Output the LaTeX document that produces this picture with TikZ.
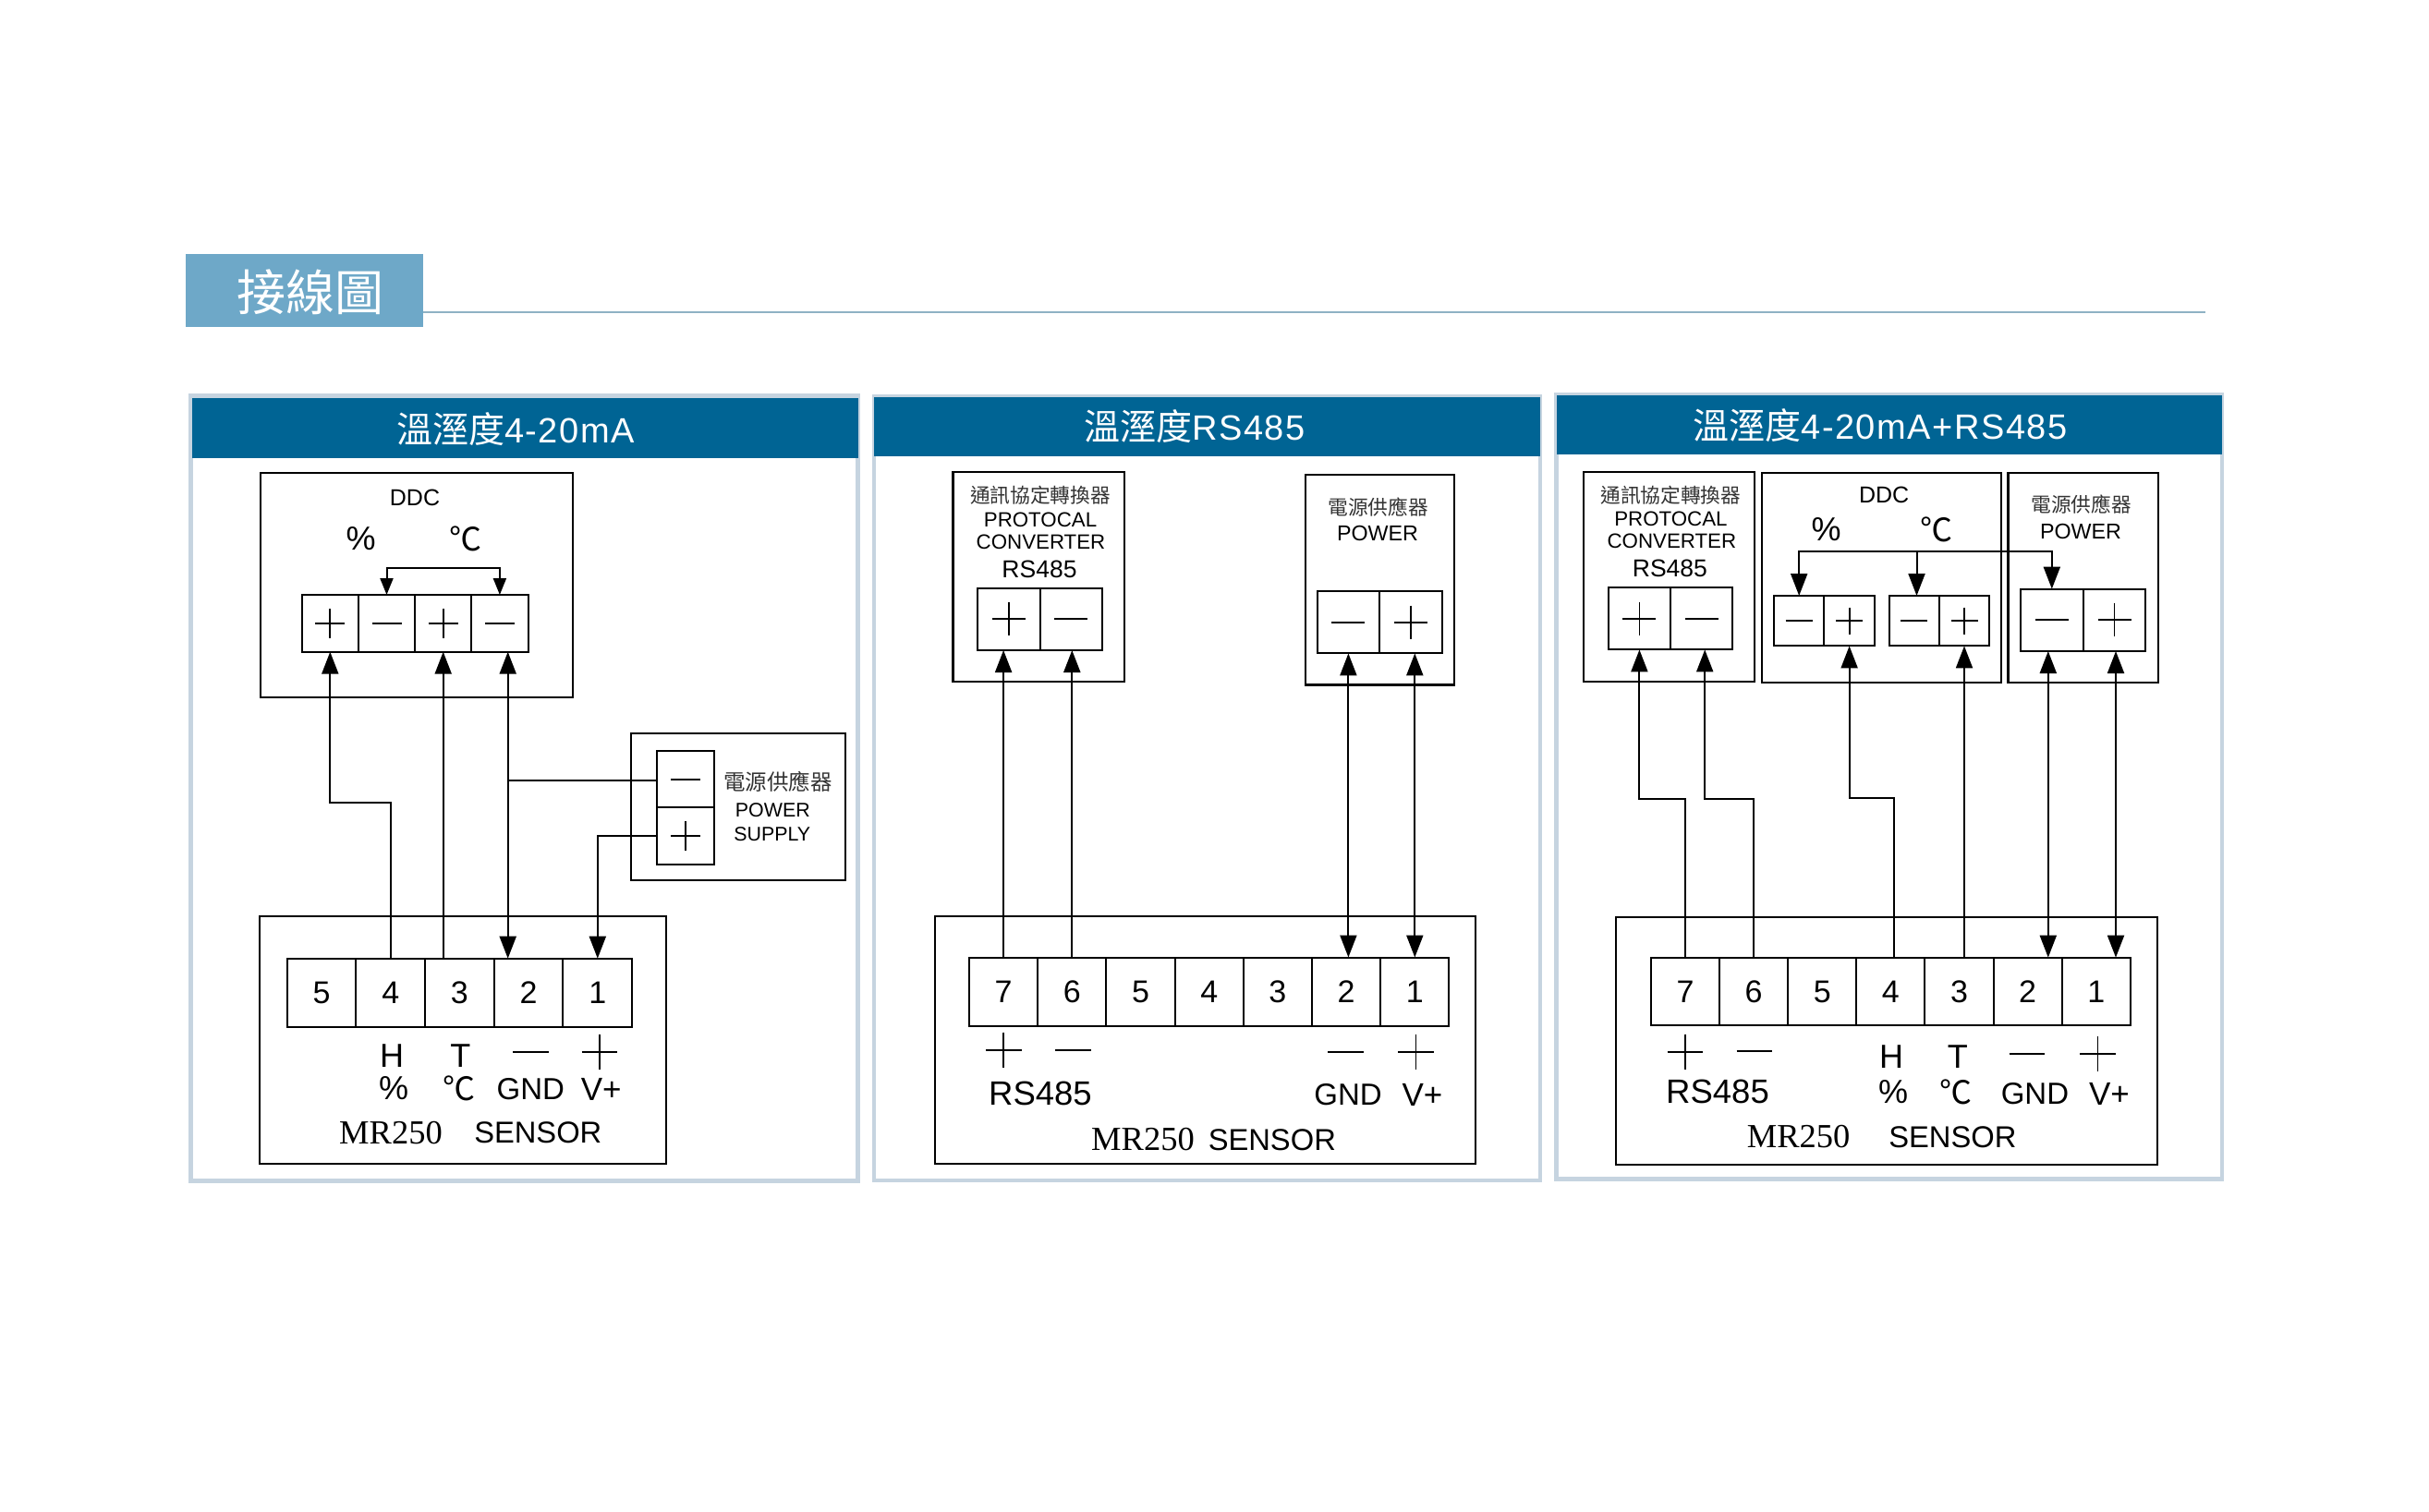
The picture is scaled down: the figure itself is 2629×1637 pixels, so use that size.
\documentclass[tikz,border=0pt]{standalone}
\usepackage{fontspec}
\setmainfont{Liberation Sans}
\newfontfamily\cjk{Noto Sans CJK TC}
\newfontfamily\mrserif{Liberation Serif}
\newfontfamily\titlefont[LetterSpace=4]{Liberation Sans}
\usetikzlibrary{arrows.meta}

\definecolor{headblue}{HTML}{006494}
\definecolor{panelline}{HTML}{C6D4E0}
\definecolor{tabblue}{HTML}{6EA8C8}
\definecolor{ruleblue}{HTML}{8FB2C4}

\newcommand{\fs}[1]{\fontsize{#1}{#1}\selectfont}

\tikzset{
    wh/.style 2 args={minimum width=#1pt, minimum height=#2pt},
    panel/.style={draw=panelline, line width=4.5pt, inner sep=0pt, outer sep=0pt},
    head/.style={fill=headblue, inner sep=0pt, outer sep=0pt},
    headtext/.style={text=white, font=\titlefont\fs{38}, inner sep=0pt},
    box/.style={draw, line width=2.1pt, inner sep=0pt, outer sep=0pt},
    cell/.style={draw, line width=2pt, inner sep=0pt, outer sep=0pt, font=\fs{34}},
    plusmark/.style={path picture={
        \draw[line width=1.8pt] (path picture bounding box.center) ++(-#1,0) -- ++(2*#1,0);
        \draw[line width=1.8pt] (path picture bounding box.center) ++(0,-#1) -- ++(0,2*#1);}},
    minusmark/.style={path picture={
        \draw[line width=1.8pt] (path picture bounding box.center) ++(-#1,0) -- ++(2*#1,0);}},
    freemark/.style={minimum size=42pt, inner sep=0pt},
    lblbig/.style={font=\fs{33}, inner sep=0pt},
    lblht/.style={font=\fs{36}, inner sep=0pt},
    lblv/.style={font=\fs{35}, inner sep=0pt},
    lblmid/.style={font=\fs{25}, inner sep=0pt},
    lblconv/.style={font=\fs{26.5}, inner sep=0pt},
    lblsmall/.style={font=\fs{22.3}, inner sep=0pt},
    lblrs/.style={font=\fs{36.5}, inner sep=0pt},
    lblsym/.style={font=\cjk\fs{35}, inner sep=0pt},
    lblcjk/.style={font=\cjk\fs{21.7}, text=black!80, inner sep=0pt},
    lblmr/.style={font=\mrserif\fs{36.5}, inner sep=0pt},
    wire/.style={line width=2pt, >={Triangle[length=24pt,width=18pt]}},
    smallwire/.style={line width=2pt, >={Triangle[length=18pt,width=14pt]}}
}

\begin{document}
\begin{tikzpicture}[x=1pt, y=-1pt]
    \useasboundingbox (0,0) rectangle (2629,1637);
    \fill[white] (0,0) rectangle (2629,1637);

    % Draw title tab and rule
    \node[fill=tabblue, wh={257}{79}, inner sep=0pt, outer sep=0pt] (tab) at (329.5,314.5) {};
    \node[text=white, font=\cjk\fs{53}, inner sep=0pt] (tabtext) at (336,316) {接線圖};
    \coordinate (ruleend) at (2387,338);
    \draw[ruleblue, line width=2pt] (ruleend -| tab.east) -- (ruleend);

    % Draw panels and headers
    \node[panel, wh={722.2}{849.8}] (panelA) at (567.6,853.4) {};
    \node[head, wh={721}{65}] (headA) at (568.5,463.5) {};
    \node[headtext] (titleA) at (558,465) {{\cjk\fs{39}溫溼度}4-20mA};
    \node[panel, wh={721}{849}] (panelB) at (1306.5,853.5) {};
    \node[head, wh={721}{64}] (headB) at (1306.5,461.5) {};
    \node[headtext] (titleB) at (1293,462) {{\cjk\fs{39}溫溼度}RS485};
    \node[panel, wh={720.5}{849}] (panelC) at (2044.75,852) {};
    \node[head, wh={720}{64}] (headC) at (2044.75,460) {};
    \node[headtext] (titleC) at (2035,461) {{\cjk\fs{39}溫溼度}4-20mA+RS485};

    % Panel A: DDC
    \node[box, wh={338.3}{243.3}] (ddcA) at (451.15,633.35) {};
    \node[lblmid] (ddcAname) at (449,538.7) {DDC};
    \node[lblht] (ddcAhum) at (390.7,583) {\%};
    \node[lblsym] (ddcAtemp) at (504,583) {℃};
    \node[cell, wh={61.2}{61.7}, plusmark=16] (ddcA1) at (357.3,674.85) {};
    \node[cell, wh={61.2}{61.7}, minusmark=16] (ddcA2) at (418.5,674.85) {};
    \node[cell, wh={61.2}{61.7}, plusmark=16] (ddcA3) at (479.7,674.85) {};
    \node[cell, wh={61.2}{61.7}, minusmark=16] (ddcA4) at (540.9,674.85) {};

    % Panel A: power supply
    \node[box, wh={231.7}{159}] (powA) at (799.15,873.8) {};
    \node[cell, wh={61.7}{61.35}, minusmark=16] (powA1) at (741.85,843.65) {};
    \node[cell, wh={61.7}{61.35}, plusmark=16] (powA2) at (741.85,905) {};
    \node[lblcjk, font=\cjk\fs{23.5}] (powAcjk) at (842,846.5) {電源供應器};
    \node[lblsmall, font=\fs{21.4}] (powAname) at (836.3,876.7) {POWER};
    \node[lblsmall, font=\fs{21.4}] (powAsup) at (835.8,902.7) {SUPPLY};

    % Panel A: sensor
    \node[box, wh={440}{268}] (senA) at (501,1126.3) {};
    \node[cell, wh={74.7}{74.6}] (senA5) at (348,1075) {5};
    \node[cell, wh={74.7}{74.6}] (senA4) at (422.7,1075) {4};
    \node[cell, wh={74.7}{74.6}] (senA3) at (497.4,1075) {3};
    \node[cell, wh={74.7}{74.6}] (senA2) at (572.1,1075) {2};
    \node[cell, wh={74.7}{74.6}] (senA1) at (646.8,1075) {1};
    \node[lblht] (senAh) at (424,1142.7) {H};
    \node[lblht] (senAt) at (498.3,1142.7) {T};
    \node[freemark, minusmark=19.3] (senAminus) at (574.3,1139.3) {};
    \node[freemark, plusmark=19.3] (senAplus) at (649,1139) {};
    \node[lblht] (senAhum) at (426,1178) {\%};
    \node[lblsym] (senAtemp) at (496.7,1178) {℃};
    \node[lblbig] (senAgnd) at (574.3,1179.3) {GND};
    \node[lblv] (senAv) at (650.7,1179.3) {V+};
    \node[lblmr] (senAmr) at (423,1226.7) {MR250};
    \node[lblbig, font=\fs{32.7}] (senAname) at (582.3,1226.7) {SENSOR};

    % Panel A: wires
    \coordinate (bendA) at (390,869);
    \coordinate (gndA) at (549.7,845);
    \draw[smallwire, <->] (ddcA2.north) |- (450,615.3) -| (ddcA4.north);
    \draw[wire, ->] (senA4.north) |- (bendA) -| (ddcA1.south);
    \draw[wire, ->] (ddcA3.south |- senA3.north) -- (ddcA3.south);
    \draw[wire, <->] (gndA |- ddcA4.south) -- (gndA |- senA2.north);
    \draw[line width=2pt] (gndA) -- (gndA -| powA1.west);
    \draw[wire, ->] (powA2.west) -| (senA1.north);

    % Panel B: protocol converter
    \node[box, wh={185.5}{227}] (conB) at (1124.25,624.5) {};
    \node[lblcjk] (conBcjk) at (1126,536) {通訊協定轉換器};
    \node[lblsmall] (conBname) at (1126,562.7) {PROTOCAL};
    \node[lblsmall] (conBconv) at (1126.5,586.5) {CONVERTER};
    \node[lblconv] (conBrs) at (1125,616) {RS485};
    \node[cell, wh={67.5}{67.5}, plusmark=18] (conB1) at (1091.8,670.25) {};
    \node[cell, wh={67.5}{67.5}, minusmark=18] (conB2) at (1159.3,670.25) {};

    % Panel B: power
    \node[box, wh={161.3}{227.5}] (powB) at (1493.65,627.75) {};
    \node[lblcjk] (powBcjk) at (1491.7,549) {電源供應器};
    \node[lblsmall, font=\fs{23.3}] (powBname) at (1491,577.4) {POWER};
    \node[cell, wh={67.7}{67.4}, minusmark=18] (powB1) at (1459.4,673.7) {};
    \node[cell, wh={67.7}{67.4}, plusmark=18] (powB2) at (1527.1,673.7) {};

    % Panel B: sensor
    \node[box, wh={585.2}{267.3}] (senB) at (1304.6,1126) {};
    \node[cell, wh={74.2}{74.5}] (senB7) at (1086.1,1073.75) {7};
    \node[cell, wh={74.2}{74.5}] (senB6) at (1160.3,1073.75) {6};
    \node[cell, wh={74.2}{74.5}] (senB5) at (1234.5,1073.75) {5};
    \node[cell, wh={74.2}{74.5}] (senB4) at (1308.7,1073.75) {4};
    \node[cell, wh={74.2}{74.5}] (senB3) at (1382.9,1073.75) {3};
    \node[cell, wh={74.2}{74.5}] (senB2) at (1457.1,1073.75) {2};
    \node[cell, wh={74.2}{74.5}] (senB1) at (1531.3,1073.75) {1};
    \node[freemark, plusmark=19.3] (senBplus) at (1086.3,1137) {};
    \node[freemark, minusmark=19.3] (senBminus) at (1161.4,1137) {};
    \node[freemark, minusmark=19.3] (senBminusb) at (1456.4,1139) {};
    \node[freemark, plusmark=19.3] (senBplusb) at (1532.5,1139) {};
    \node[lblrs] (senBrs) at (1126,1184) {RS485};
    \node[lblbig] (senBgnd) at (1459,1185) {GND};
    \node[lblv] (senBv) at (1539.5,1185) {V+};
    \node[lblmr] (senBmr) at (1237,1234) {MR250};
    \node[lblbig, font=\fs{32.7}] (senBname) at (1376.8,1234) {SENSOR};

    % Panel B: wires
    \draw[wire, ->] (senB7.north) -- (senB7.north |- conB1.south);
    \draw[wire, ->] (senB6.north) -- (senB6.north |- conB2.south);
    \draw[wire, <->] (powB1.south) -- (powB1.south |- senB2.north);
    \draw[wire, <->] (senB1.north |- powB2.south) -- (senB1.north);

    % Panel C: protocol converter
    \node[box, wh={185.4}{227}] (conC) at (1806.7,624.5) {};
    \node[lblcjk] (conCcjk) at (1808.4,536) {通訊協定轉換器};
    \node[lblsmall] (conCname) at (1808.4,562) {PROTOCAL};
    \node[lblsmall] (conCconv) at (1809.4,586) {CONVERTER};
    \node[lblconv] (conCrs) at (1807.4,615.5) {RS485};
    \node[cell, wh={67.4}{67.4}, plusmark=18] (conC1) at (1774.4,669.7) {};
    \node[cell, wh={67.4}{67.4}, minusmark=18] (conC2) at (1841.7,669.7) {};

    % Panel C: DDC
    \node[box, wh={259.1}{227}] (ddcC) at (2036.45,625.1) {};
    \node[lblmid] (ddcCname) at (2039.2,536) {DDC};
    \node[lblht] (ddcChum) at (1976.5,573.5) {\%};
    \node[lblsym] (ddcCtemp) at (2096,573.5) {℃};
    \node[cell, wh={54.4}{54.4}, minusmark=14.5] (ddcC1) at (1947.2,672.2) {};
    \node[cell, wh={54.4}{54.4}, plusmark=14.5] (ddcC2) at (2001.6,672.2) {};
    \node[cell, wh={54.4}{54.4}, minusmark=14.5] (ddcC3) at (2071.8,672.2) {};
    \node[cell, wh={54.4}{54.4}, plusmark=14.5] (ddcC4) at (2126,672.2) {};

    % Panel C: power
    \node[box, wh={162.2}{226.6}] (powC) at (2254.6,625.3) {};
    \node[lblcjk] (powCcjk) at (2252.6,546) {電源供應器};
    \node[lblsmall, font=\fs{23.3}] (powCname) at (2252,575) {POWER};
    \node[cell, wh={67.65}{67.4}, minusmark=18] (powC1) at (2220.8,671.3) {};
    \node[cell, wh={67.65}{67.4}, plusmark=18] (powC2) at (2288.5,671.3) {};

    % Panel C: sensor
    \node[box, wh={585.5}{267.7}] (senC) at (2042,1126.85) {};
    \node[cell, wh={74.1}{73.7}] (senC7) at (1824,1073.5) {7};
    \node[cell, wh={74.1}{73.7}] (senC6) at (1898.1,1073.5) {6};
    \node[cell, wh={74.1}{73.7}] (senC5) at (1972.2,1073.5) {5};
    \node[cell, wh={74.1}{73.7}] (senC4) at (2046.4,1073.5) {4};
    \node[cell, wh={74.1}{73.7}] (senC3) at (2120.5,1073.5) {3};
    \node[cell, wh={74.1}{73.7}] (senC2) at (2194.6,1073.5) {2};
    \node[cell, wh={74.1}{73.7}] (senC1) at (2268.7,1073.5) {1};
    \node[freemark, plusmark=19.3] (senCplus) at (1823.8,1139) {};
    \node[freemark, minusmark=19.3] (senCminus) at (1899,1138) {};
    \node[lblht] (senCh) at (2047,1144) {H};
    \node[lblht] (senCt) at (2118.8,1144) {T};
    \node[freemark, minusmark=19.3] (senCminusb) at (2194,1141) {};
    \node[freemark, plusmark=19.3] (senCplusb) at (2270.5,1141) {};
    \node[lblrs] (senCrs) at (1859,1182) {RS485};
    \node[lblht] (senChum) at (2049,1182) {\%};
    \node[lblsym] (senCtemp) at (2116.8,1182) {℃};
    \node[lblbig] (senCgnd) at (2202.4,1184) {GND};
    \node[lblv] (senCv) at (2283,1184) {V+};
    \node[lblmr] (senCmr) at (1946.7,1231) {MR250};
    \node[lblbig, font=\fs{32.7}] (senCname) at (2113.3,1231) {SENSOR};

    % Panel C: wires
    \coordinate (busC) at (2074.5,596.7);
    \coordinate (bendCa) at (1800,864.6);
    \coordinate (bendCb) at (1870,864.6);
    \coordinate (bendCc) at (2025,864);
    \coordinate (gndC) at (2216.8,705);
    \draw[wire, <->] (ddcC1.north) |- (busC) -| (powC1.north);
    \draw[wire, ->] (busC) -- (busC |- ddcC3.north);
    \draw[wire, ->] (senC7.north) |- (bendCa) -| (conC1.south);
    \draw[wire, ->] (senC6.north) |- (bendCb) -| ([xshift=3.5pt]conC2.south);
    \draw[wire, ->] ([xshift=3.5pt]senC4.north) |- (bendCc) -| (ddcC2.south);
    \draw[wire, ->] (ddcC4.south |- senC3.north) -- (ddcC4.south);
    \draw[wire, <->] (gndC |- powC1.south) -- (gndC |- senC2.north);
    \draw[wire, <->] ([xshift=1.5pt]powC2.south) -- ([xshift=1.5pt]powC2.south |- senC1.north);
\end{tikzpicture}
\end{document}
